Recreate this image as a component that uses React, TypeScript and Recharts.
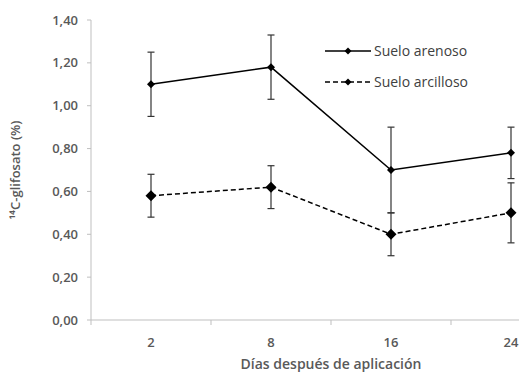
import { LineChart, Line, XAxis, YAxis, ErrorBar } from 'recharts'

// Días después de aplicación
const dias = ['2', '8', '16', '24']
// 14C-glifosato (%)
const arenoso = [1.1, 1.18, 0.7, 0.78]
const arenosoErr = [0.15, 0.15, 0.2, 0.12]
const arcilloso = [0.58, 0.62, 0.4, 0.5]
const arcillosoErr = [0.1, 0.1, 0.1, 0.14]
const yTicks = [0, 0.2, 0.4, 0.6, 0.8, 1.0, 1.2, 1.4]
const seriesNames = ['Suelo arenoso', 'Suelo arcilloso']

const CHART_W = 580
const CHART_H = 374
const X_AXIS_H = 30
const MARGIN = { top: 20, right: 9, bottom: 54 - X_AXIS_H, left: 31 }
const Y_AXIS_W = 60
const AXIS_GREY = '#bfbfbf'
const TEXT_GREY = '#595959'
const FONT = '"Open Sans", "Liberation Sans", sans-serif'

const data = dias.map((d, i) => ({
  dia: d,
  arenoso: arenoso[i],
  arenosoErr: arenosoErr[i],
  arcilloso: arcilloso[i],
  arcillosoErr: arcillosoErr[i],
}))

const bandHalf = (CHART_W - MARGIN.left - MARGIN.right - Y_AXIS_W) / dias.length / 2

const Diamond = (props: any) => {
  const { cx, cy, r = 5 } = props
  if (cx == null || cy == null) return null
  return <polygon points={`${cx},${cy - r} ${cx + r},${cy} ${cx},${cy + r} ${cx - r},${cy}`} fill="#000" />
}

const XTick = (props: any) => {
  const { x, y, payload } = props
  return (
    <g>
      <line x1={x - bandHalf} y1={y} x2={x - bandHalf} y2={y + 5} stroke={AXIS_GREY} />
      <text x={x} y={y + 22} textAnchor="middle" dominantBaseline="central" fill={TEXT_GREY}
        fontSize={13} fontWeight={600} fontFamily={FONT}>
        {payload.value}
      </text>
    </g>
  )
}

// legend drawn as an overlay so it doesn't eat plot space
const LegendBox = () => {
  const dashes = [undefined, '5 3']
  return (
    <div style={{ position: 'absolute', left: 325, top: 35, fontFamily: FONT, fontSize: 14, color: '#404040' }}>
      {seriesNames.map((name, i) => (
        <div key={name} style={{ display: 'flex', alignItems: 'center', height: 31 }}>
          <svg width={48} height={12}>
            <line x1={0} y1={6} x2={46} y2={6} stroke="#000" strokeWidth={1.5} strokeDasharray={dashes[i]} />
            <Diamond cx={23} cy={6} r={3.5} />
          </svg>
          <span style={{ marginLeft: 1 }}>{name}</span>
        </div>
      ))}
    </div>
  )
}

export default function App() {
  return (
    <div style={{ position: 'fixed', left: 0, top: 0, width: 519, height: 374, overflow: 'hidden', background: '#fff' }}>
      <LineChart width={CHART_W} height={CHART_H} data={data} margin={MARGIN}>
        <XAxis
          dataKey="dia"
          scale="band"
          height={X_AXIS_H}
          axisLine={{ stroke: AXIS_GREY }}
          tickLine={false}
          tickSize={0}
          tickMargin={0}
          tick={<XTick />}
          label={{ value: 'Días después de aplicación', position: 'insideBottom', offset: -19, fill: TEXT_GREY, fontSize: 14, fontWeight: 600, fontFamily: FONT } as any}
        />
        <YAxis
          width={Y_AXIS_W}
          domain={[0, 1.4]}
          ticks={yTicks}
          interval={0}
          axisLine={{ stroke: AXIS_GREY }}
          tickLine={{ stroke: AXIS_GREY }}
          tickSize={4}
          tickMargin={9}
          tickFormatter={(v: number) => v.toFixed(2).replace('.', ',')}
          tick={{ fill: TEXT_GREY, fontSize: 13, fontWeight: 600, fontFamily: FONT }}
          label={{ value: '¹⁴C-glifosato (%)', angle: -90, position: 'insideLeft', offset: -16, fill: TEXT_GREY, fontSize: 13, fontWeight: 600, fontFamily: FONT, style: { textAnchor: 'middle' } } as any}
        />
        <Line type="linear" dataKey="arenoso" name={seriesNames[0]} stroke="#000" strokeWidth={1.5} dot={<Diamond r={4} />} activeDot={false}
          isAnimationActive={false}>
          <ErrorBar dataKey="arenosoErr" width={3.5} stroke="#333" strokeWidth={1.2} direction="y" />
        </Line>
        <Line type="linear" dataKey="arcilloso" name={seriesNames[1]} stroke="#000" strokeWidth={1.5} strokeDasharray="5 3" dot={<Diamond r={5.5} />}
          activeDot={false} isAnimationActive={false}>
          <ErrorBar dataKey="arcillosoErr" width={3.5} stroke="#333" strokeWidth={1.2} direction="y" />
        </Line>
      </LineChart>
      <LegendBox />
    </div>
  )
}
